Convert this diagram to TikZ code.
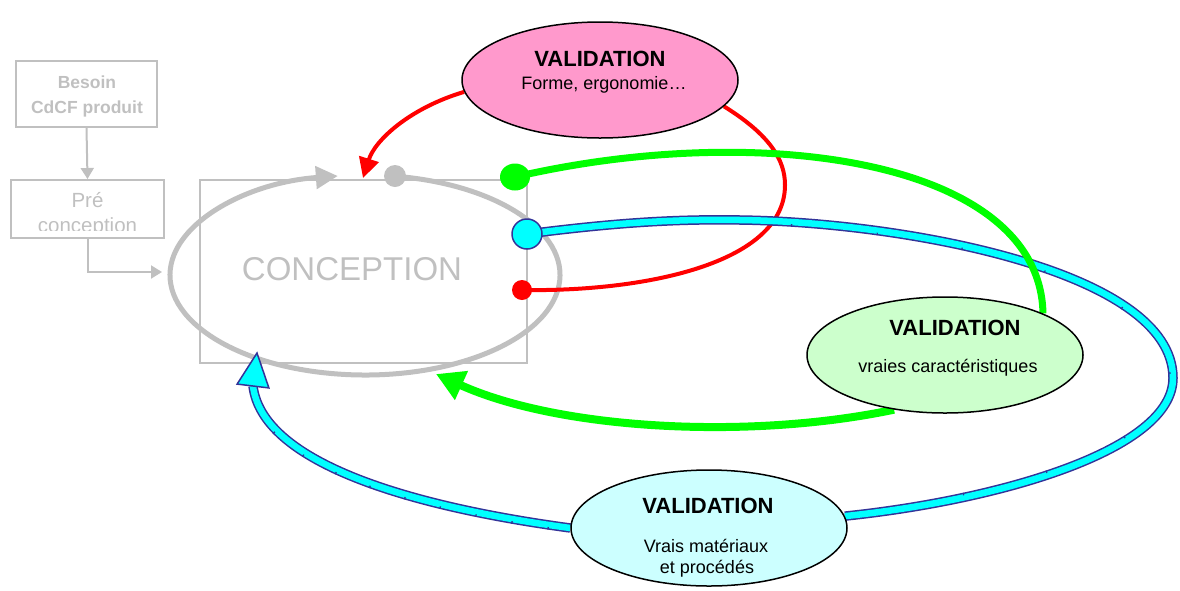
\documentclass[tikz,border=0pt]{standalone}
\usepackage{fontspec}
\setmainfont{Liberation Sans}
\usetikzlibrary{arrows.meta,shapes.geometric,calc,decorations.markings}
\definecolor{gr}{RGB}{192,192,192}
\definecolor{pinkv}{RGB}{255,153,204}
\definecolor{greenv}{RGB}{204,255,204}
\definecolor{cyanv}{RGB}{204,255,255}
\definecolor{cbord}{RGB}{51,51,153}
\definecolor{myred}{RGB}{255,0,0}
\definecolor{mygreen}{RGB}{0,255,0}
\definecolor{mycyan}{RGB}{0,255,255}
\begin{document}
\begin{tikzpicture}[x=1pt,y=-1pt,
  flowbox/.style={draw=gr,line width=2pt,rectangle,inner sep=0pt},
  flowarrow/.style={draw=gr,line width=2pt,-{Triangle[length=11pt,width=13pt]}},
  valell/.style={draw=black,line width=1.5pt,ellipse,minimum width=276pt,minimum height=116pt,inner sep=0pt},
  vtitle/.style={font=\bfseries\fontsize{22}{26}\selectfont,anchor=base,inner sep=0pt},
  vsub/.style={font=\fontsize{18}{22}\selectfont,anchor=base,inner sep=0pt},
  flowtxt/.style={text=gr,anchor=base,inner sep=0pt},
  redline/.style={draw=myred,line width=4pt},
  greenline/.style={draw=mygreen,line width=7pt},
  cyanline/.style={draw=cbord,line width=1.5pt,double=mycyan,double distance=6.5pt},
  cyanticks/.style={postaction={decorate,decoration={markings,mark=between positions 0.06 and 0.96 step 0.1 with {\draw[cbord,line width=1.3pt,double=none] (0pt,#1) -- (0pt,0.45*#1);}}}},
  dot/.style={circle,inner sep=0pt}]
\useasboundingbox (0,0) rectangle (1180,590);

% flow boxes
\node[flowbox,minimum width=141pt,minimum height=66pt] (besoin) at (86.5,94) {};
\node[flowtxt,font=\bfseries\fontsize{17.5}{20}\selectfont] (besoin1) at (87,88) {Besoin};
\node[flowtxt,font=\bfseries\fontsize{17.5}{20}\selectfont] (besoin2) at (87,113) {CdCF produit};
\node[flowbox,minimum width=153pt,minimum height=58pt] (pre) at (87.5,209) {};
\begin{scope}
  \clip (12,181) rectangle (163,230);
  \node[flowtxt,font=\fontsize{20.5}{24}\selectfont] (pre1) at (87.5,207) {Pré};
  \node[flowtxt,font=\fontsize{20.5}{24}\selectfont] (pre2) at (87.5,232) {conception};
\end{scope}
\draw[flowarrow] (besoin.south) -- (pre.north);
\coordinate (preend) at (162,272);
\draw[flowarrow] (pre.south) |- (preend);

% conception
\node[draw=gr,line width=2pt,rectangle,minimum width=327pt,minimum height=183pt,inner sep=0pt] (concept) at (363,271) {};
\node[text=gr,font=\fontsize{33}{38}\selectfont,anchor=base,inner sep=0pt] (concepttxt) at (352,280) {CONCEPTION};
\coordinate (gc) at (365,275);
\draw[gr,line width=5pt,-{Triangle[length=22pt,width=22pt]}] ($(gc)+(-81:195 and 100)$) arc[start angle=-81,end angle=262,x radius=195,y radius=100];

% validation ellipses (positions)
\path (600,80) node[valell,draw=none] (pink) {};
\path (945,355) node[valell,draw=none] (vgreen) {};
\path (709,528) node[valell,draw=none] (vcyan) {};

% dots (positions)
\path (395,176) node[dot,minimum size=22pt] (graydot) {};
\path (515,177) node[ellipse,inner sep=0pt,minimum width=30pt,minimum height=27pt] (gdot) {};
\path (522,290) node[dot,minimum size=20pt] (rdot) {};
\path (527,234) node[dot,minimum size=30pt] (cdot) {};

% red connectors
\coordinate (rtip) at (363,178);
\draw[redline,-{Triangle[length=20pt,width=20pt]}] (pink.185) .. controls (410,108) and (375,140) .. (rtip);
\draw[redline] (pink.-12) .. controls (770,135) and (785,160) .. (785,185) .. controls (785,265) and (640,292) .. (rdot.center);

% cyan connectors
\draw[cyanline] (cdot.center) .. controls (620,222) and (680,219) .. (740,220)
   .. controls (900,222) and (1173,270) .. (1173,378)
   .. controls (1173,450) and (1000,500) .. (vcyan.5);
\path[cyanticks=-4.6pt] (740,220)
   .. controls (900,222) and (1173,270) .. (1173,378)
   .. controls (1173,450) and (1000,500) .. (vcyan.5);
\coordinate (cbase) at (253,386);
\coordinate (ctip) at (257,353);
\draw[cyanline] (vcyan.180) .. controls (400,505) and (262,460) .. (cbase);
\path[cyanticks=4.6pt] (vcyan.180) .. controls (400,505) and (262,460) .. (cbase);
\filldraw[fill=mycyan,draw=cbord,line width=1.5pt] (ctip) -- ($(cbase)!16pt!90:(ctip)$) -- ($(cbase)!16pt!-90:(ctip)$) -- cycle;

% green connectors
\draw[greenline] (gdot.center) .. controls (760,120) and (1040,160) .. (vgreen.23);
\coordinate (gtip) at (436,374);
\draw[greenline,line width=8pt,-{Triangle[length=28pt,width=30pt]}] (vgreen.227) .. controls (750,440) and (560,430) .. (gtip);

% dots drawn
\fill[gr] (graydot) circle[radius=11pt];
\fill[mygreen] (gdot) ellipse[x radius=15pt,y radius=13.5pt];
\fill[myred] (rdot) circle[radius=10pt];
\filldraw[fill=mycyan,draw=cbord,line width=1.5pt] (cdot) circle[radius=15pt];

% ellipses drawn
\node[valell,fill=pinkv] at (pink) {};
\node[valell,fill=greenv] at (vgreen) {};
\node[valell,fill=cyanv] at (vcyan) {};

% texts
\node[vtitle] (pinkt) at (600,66) {VALIDATION};
\node[vsub] (pinks) at (604,89) {Forme, ergonomie…};
\node[vtitle] (greent) at (955,335) {VALIDATION};
\node[vsub] (greens) at (948,372) {vraies caractéristiques};
\node[vtitle] (cyant) at (708,513) {VALIDATION};
\node[vsub] (cyans1) at (706,552) {Vrais matériaux};
\node[vsub] (cyans2) at (707,573) {et procédés};
\end{tikzpicture}
\end{document}
